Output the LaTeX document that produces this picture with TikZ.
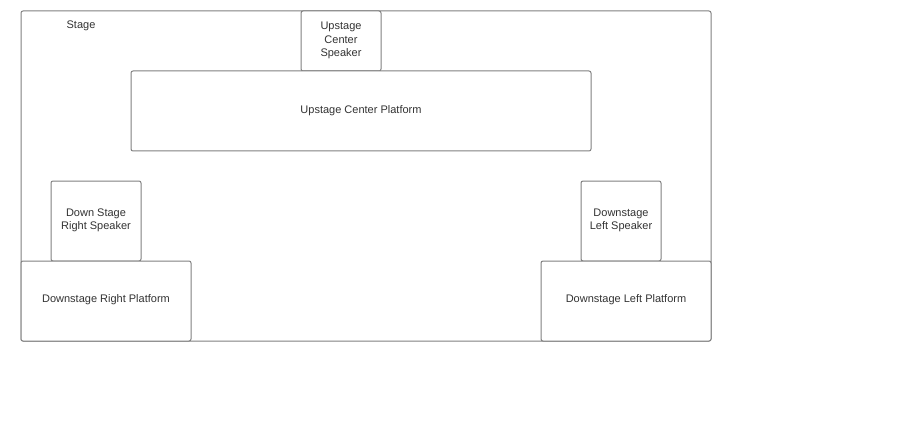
\documentclass[tikz,border=0pt]{standalone}
\usepackage{fontspec}
\setmainfont{Liberation Sans}
\definecolor{edge}{HTML}{808080}
\definecolor{txt}{HTML}{333333}
\begin{document}
\begin{tikzpicture}[x=1pt,y=-1pt,
  box/.style={draw=edge,line width=1pt,rounded corners=2pt},
  lbl/.style={text=txt,font=\fontsize{11}{13.5}\selectfont,align=center}]
\useasboundingbox[fill=white] (0,0) rectangle (901,422);
\draw[box] (21,11) rectangle (711,341);
\node[lbl] (stage) at (81,26) {Stage};
\draw[box,fill=white] (301,11) rectangle (381,71);
\node[lbl] (ucs) at (341,40.5) {Upstage\\Center\\Speaker};
\draw[box,fill=white] (131,71) rectangle (591,151);
\node[lbl] (ucp) at (361,111) {Upstage Center Platform};
\draw[box,fill=white] (51,181) rectangle (141,261);
\node[lbl] (dsrs) at (96,220.5) {Down Stage\\Right Speaker};
\draw[box,fill=white] (21,261) rectangle (191,341);
\node[lbl] (drp) at (106,300) {Downstage Right Platform};
\draw[box,fill=white] (581,181) rectangle (661,261);
\node[lbl] (dls) at (621,220.5) {Downstage\\Left Speaker};
\draw[box,fill=white] (541,261) rectangle (711,341);
\node[lbl] (dlp) at (626,300) {Downstage Left Platform};
\end{tikzpicture}
\end{document}
